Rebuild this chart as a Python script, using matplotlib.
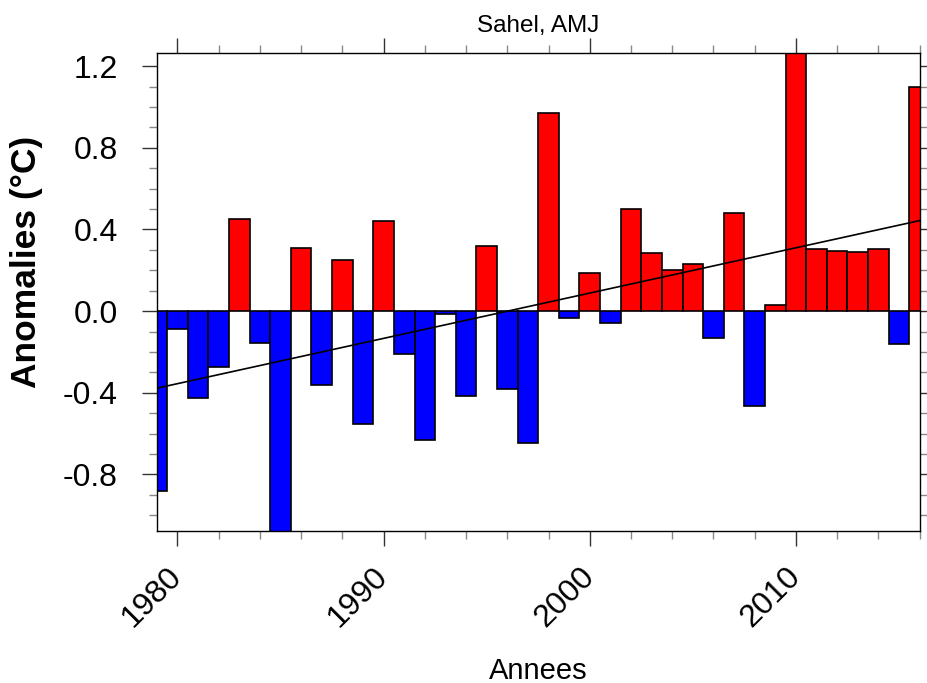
import numpy as np
import matplotlib.pyplot as plt
from matplotlib.ticker import MultipleLocator

# Donnees
annees = np.arange(1979, 2017)
anomalies = [
    -0.88, -0.09, -0.425, -0.274, 0.452, -0.157, -1.08, 0.310, -0.36, 0.252,
    -0.552, 0.443, -0.209, -0.63, -0.015, -0.415, 0.321, -0.38, -0.646, 0.968,
    -0.033, 0.186, -0.057, 0.502, 0.284, 0.199, 0.230, -0.134, 0.480, -0.464,
    0.031, 1.265, 0.302, 0.296, 0.288, 0.305, -0.163, 1.098,
]
titre = "Sahel, AMJ"

anomalies = np.array(anomalies)
couleurs = np.where(anomalies >= 0, "#ff0000", "#0000ff")

plt.rcParams["font.family"] = ["Liberation Sans", "DejaVu Sans"]
plt.rcParams["axes.unicode_minus"] = False

fig = plt.figure(figsize=(9.28, 6.83), dpi=100)
ax = fig.add_axes([0.169, 0.222, 0.822, 0.700])

ax.bar(annees, anomalies, width=1.0, color=couleurs, edgecolor="black",
       linewidth=1.2, zorder=2)

# Tendance lineaire
pente, origine = np.polyfit(annees, anomalies, 1)
xt = np.array([annees[0], annees[-1]])
ax.plot(xt, pente * xt + origine, color="black", linewidth=1.2, zorder=3)

ax.set_xlim(1979, 2016)
ax.set_ylim(-1.079, 1.263)

ax.xaxis.set_major_locator(MultipleLocator(10))
ax.xaxis.set_minor_locator(MultipleLocator(2))
ax.yaxis.set_major_locator(MultipleLocator(0.4))
ax.yaxis.set_minor_locator(MultipleLocator(0.1))
ax.yaxis.set_major_formatter(lambda v, p: f"{v:.1f}")

ax.tick_params(which="both", direction="out", top=True, right=True)
ax.tick_params(which="major", length=11, width=1.0, color="#333333")
ax.tick_params(which="minor", length=6, width=1.0, color="#888888")
ax.tick_params(axis="y", labelsize=23, pad=17)
ax.tick_params(axis="x", labelsize=23, pad=18)
for lbl in ax.get_xticklabels():
    lbl.set_rotation(45)
    lbl.set_ha("right")
    lbl.set_va("center")
    lbl.set_rotation_mode("anchor")

for s in ax.spines.values():
    s.set_linewidth(1.0)

ax.set_title(titre, fontsize=17.5, pad=15)
ax.set_xlabel("Annees", fontsize=21)
ax.xaxis.set_label_coords(0.5, -0.262)
ax.set_ylabel("Anomalies (°C)", fontsize=25.5, fontweight="bold")
ax.yaxis.set_label_coords(-0.149, 0.563)

fig.savefig("out.png", dpi=100)
